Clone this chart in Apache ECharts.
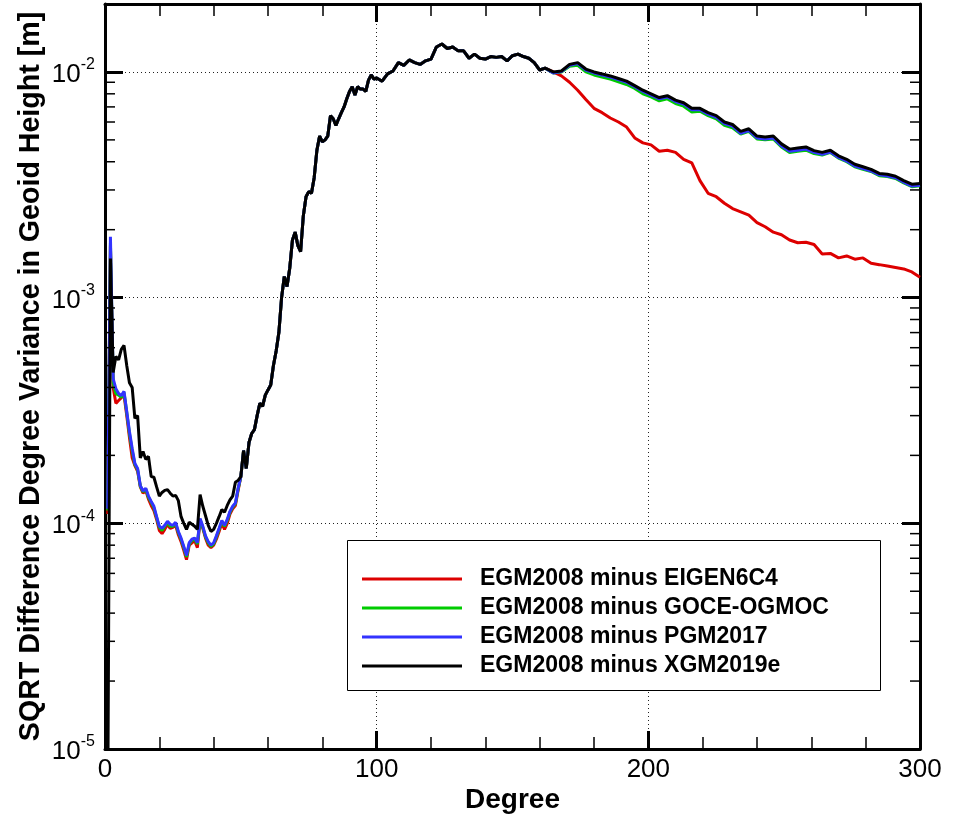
<!DOCTYPE html>
<html><head><meta charset="utf-8">
<script src="https://cdn.jsdelivr.net/npm/echarts@6/dist/echarts.min.js"></script>
<style>html,body{margin:0;padding:0;background:#fff}#c{width:953px;height:814px}</style>
</head><body><div id="c"></div>
<script>
// ---------------- data ----------------
const seriesNames = ['EGM2008 minus EIGEN6C4','EGM2008 minus GOCE-OGMOC','EGM2008 minus PGM2017','EGM2008 minus XGM2019e'];
const xTicks = [0,100,200,300];
const yMinorTicks = [2e-5,3e-5,4e-5,5e-5,6e-5,7e-5,8e-5,9e-5,2e-4,3e-4,4e-4,5e-4,6e-4,7e-4,8e-4,9e-4,2e-3,3e-3,4e-3,5e-3,6e-3,7e-3,8e-3,9e-3];

// degrees 1..49 (each model separately)
const degA = [1,2,3,4,5,6,7,8,9,10,11,12,13,14,15,16,17,18,19,20,21,22,23,24,25,26,27,28,29,30,31,32,33,34,35,36,37,38,39,40,41,42,43,44,45,46,47,48,49];
const blackA = [5e-6,1.49e-3,4.66e-4,5.48e-4,5.3e-4,5.9e-4,6.14e-4,5.0e-4,4.2e-4,4.0e-4,
  2.92e-4,3.0e-4,1.95e-4,2.08e-4,1.92e-4,1.98e-4,1.61e-4,1.6e-4,1.45e-4,1.32e-4,
  1.37e-4,1.4e-4,1.41e-4,1.36e-4,1.32e-4,1.33e-4,1.26e-4,1.07e-4,1.0e-4,9.4e-5,
  1.01e-4,9.9e-5,9.7e-5,9.4e-5,1.34e-4,1.19e-4,1.08e-4,9.8e-5,9.2e-5,9.4e-5,
  1.0e-4,1.07e-4,1.15e-4,1.12e-4,1.2e-4,1.27e-4,1.32e-4,1.52e-4,1.55e-4];
const blueA = [1.16e-4,1.86e-3,4.38e-4,3.95e-4,3.76e-4,3.68e-4,3.84e-4,3.13e-4,2.55e-4,2.15e-4,
  1.84e-4,1.75e-4,1.47e-4,1.39e-4,1.43e-4,1.32e-4,1.25e-4,1.19e-4,1.07e-4,9.7e-5,
  9.5e-5,9.8e-5,1.02e-4,9.9e-5,9.8e-5,1.01e-4,9.2e-5,8.6e-5,7.9e-5,7.2e-5,
  8.2e-5,8.5e-5,8.6e-5,8.2e-5,1.05e-4,9.7e-5,8.8e-5,8.3e-5,8.0e-5,8.2e-5,
  8.8e-5,9.5e-5,1.03e-4,9.8e-5,1.04e-4,1.13e-4,1.19e-4,1.23e-4,1.43e-4];
const redA = [1.1e-4,1.7e-3,4.0e-4,3.4e-4,3.5e-4,3.6e-4,3.7e-4,3.0e-4,2.4e-4,1.95e-4,
  1.8e-4,1.7e-4,1.45e-4,1.36e-4,1.4e-4,1.28e-4,1.2e-4,1.14e-4,1.04e-4,9.3e-5,
  9.0e-5,9.4e-5,9.9e-5,9.5e-5,9.6e-5,9.8e-5,8.9e-5,8.3e-5,7.6e-5,6.9e-5,
  8.0e-5,8.2e-5,8.4e-5,7.8e-5,1.03e-4,9.5e-5,8.6e-5,8.0e-5,7.8e-5,8.0e-5,
  8.5e-5,9.2e-5,1.0e-4,9.4e-5,1.0e-4,1.1e-4,1.16e-4,1.2e-4,1.4e-4];
const greenA = [1.14e-4,1.75e-3,4.2e-4,3.75e-4,3.7e-4,3.62e-4,3.8e-4,3.1e-4,2.5e-4,2.1e-4,
  1.82e-4,1.73e-4,1.46e-4,1.38e-4,1.42e-4,1.3e-4,1.24e-4,1.17e-4,1.06e-4,9.6e-5,
  9.3e-5,9.7e-5,1.01e-4,9.7e-5,9.7e-5,1.0e-4,9.1e-5,8.5e-5,7.8e-5,7.1e-5,
  8.1e-5,8.4e-5,8.5e-5,8.1e-5,1.04e-4,9.6e-5,8.7e-5,8.2e-5,7.9e-5,8.1e-5,
  8.7e-5,9.4e-5,1.02e-4,9.7e-5,1.03e-4,1.12e-4,1.18e-4,1.22e-4,1.42e-4];

// degrees 50..162 where all four curves coincide
const degB = [50,51,52,53,54,55,56,57,58,59,60,61,62,63,64,65,66,67,68,69,70,71,72,73,74,75,76,77,78,79,
  80,81,82,83,84,85,86,87,88,89,90,91,92,93,94,95,96,97,98,99,
  100,102,104,106,108,110,112,114,116,118,120,122,124,126,128,130,132,134,136,138,
  140,142,144,146,148,150,152,154,156,158,160,162];
const commonB = [1.61e-4,2.1e-4,1.75e-4,2.28e-4,2.5e-4,2.6e-4,3.0e-4,3.4e-4,3.3e-4,3.7e-4,
  3.9e-4,4.1e-4,5.0e-4,5.8e-4,7.0e-4,1.0e-3,1.24e-3,1.12e-3,1.35e-3,1.8e-3,
  1.95e-3,1.7e-3,1.6e-3,2.3e-3,2.8e-3,2.95e-3,2.9e-3,3.4e-3,4.5e-3,5.2e-3,
  4.9e-3,5.0e-3,5.2e-3,6.4e-3,6.2e-3,5.8e-3,6.2e-3,6.6e-3,7.0e-3,7.6e-3,
  8.2e-3,8.6e-3,7.9e-3,8.6e-3,8.4e-3,8.4e-3,8.2e-3,9.2e-3,9.7e-3,9.3e-3,
  9.4e-3,9.1e-3,9.8e-3,1.01e-2,1.1e-2,1.07e-2,1.13e-2,1.1e-2,1.08e-2,1.12e-2,
  1.14e-2,1.29e-2,1.33e-2,1.27e-2,1.29e-2,1.24e-2,1.24e-2,1.15e-2,1.2e-2,1.15e-2,
  1.14e-2,1.17e-2,1.16e-2,1.17e-2,1.12e-2,1.18e-2,1.2e-2,1.17e-2,1.15e-2,1.1e-2,
  1.02e-2,1.04e-2];

// degrees 165..300 (each model separately)
const degC = [165,168,171,174,177,180,183,186,189,192,195,198,201,204,207,210,213,216,219,222,
  225,228,231,234,237,240,243,246,249,252,255,258,261,264,267,270,273,276,279,282,285,288,291,294,297,300];
const blackC = [0.0100,0.0101,0.0108,0.0110,0.0103,0.0100,0.0098,0.0096,0.00935,0.0091,
  0.0087,0.0083,0.0080,0.0077,0.00785,0.0075,0.0073,0.0069,0.0069,0.0066,
  0.0064,0.0060,0.00585,0.00545,0.0056,0.0052,0.00515,0.0052,0.0048,0.00455,
  0.0046,0.00465,0.00448,0.0044,0.0045,0.00425,0.0041,0.0039,0.0038,0.0037,
  0.00355,0.00352,0.00345,0.0033,0.00318,0.0032];
const blueC = [0.0099,0.01005,0.0107,0.0109,0.0102,0.0099,0.0097,0.0095,0.00925,0.0090,
  0.0086,0.0082,0.0079,0.0076,0.00775,0.0074,0.0072,0.0068,0.0068,0.0065,
  0.0063,0.0059,0.00575,0.00535,0.0055,0.0051,0.00505,0.0051,0.0047,0.00445,
  0.0045,0.00455,0.0044,0.00432,0.00442,0.00418,0.00403,0.00383,0.00373,0.00364,
  0.0035,0.00346,0.0034,0.00325,0.00312,0.00315];
const greenC = [0.0099,0.0100,0.0106,0.0107,0.0100,0.0097,0.0095,0.0093,0.00905,0.0088,
  0.00845,0.0080,0.00775,0.00745,0.0076,0.00725,0.00705,0.00665,0.0067,0.0064,
  0.0062,0.0058,0.00565,0.0053,0.00545,0.00505,0.0050,0.00505,0.00465,0.0044,
  0.00445,0.0045,0.00435,0.00428,0.0044,0.00415,0.0040,0.0038,0.0037,0.00362,
  0.00347,0.00344,0.00337,0.00322,0.0031,0.00313];
const redC = [0.0100,0.0096,0.0090,0.0083,0.00755,0.0069,0.0066,0.00625,0.0060,0.0057,
  0.0051,0.00485,0.00475,0.00445,0.0045,0.0044,0.0041,0.00395,0.0033,0.0029,
  0.0028,0.00262,0.00248,0.0024,0.00232,0.00215,0.00206,0.00195,0.0019,0.0018,
  0.00175,0.00176,0.00172,0.00156,0.00157,0.0015,0.00153,0.00148,0.0015,0.00142,
  0.0014,0.00138,0.00136,0.00134,0.0013,0.00123];

const colors = ['#dd0000','#00cc00','#3333ff','#000000'];
// --------------------------------------

function zip(degs, vals){ return degs.map((d,i)=>[d, vals[i]]); }
function build(a, c){ return zip(degA, a).concat(zip(degB, commonB), zip(degC, c)); }
const seriesData = [build(redA, redC), build(greenA, greenC), build(blueA, blueC), build(blackA, blackC)];

const FF = '"Liberation Sans", Arial, Helvetica, sans-serif';
const chart = echarts.init(document.getElementById('c'), null, {renderer:'canvas'});
const gridLine = {type:[1,3], color:'#222', width:1};

function xAxisCfg(pos, main){
  return {
    type:'value', position:pos, min:0, max:300, interval:100,
    axisLine:{show:true, onZero:false, lineStyle:{color:'#000', width:3}},
    axisTick:{show:true, inside:true, length:18, lineStyle:{color:'#000', width:3}},
    minorTick:{show:true, splitNumber:5, length:12, lineStyle:{color:'#000', width:1.5}},
    axisLabel:{show:main, fontSize:26, color:'#000', margin:8, fontFamily:FF,
      formatter: v => xTicks.indexOf(v) >= 0 ? String(v) : ''},
    splitLine:{show:main, lineStyle:gridLine},
    name: main ? 'Degree' : '', nameLocation:'middle', nameGap:37, nameMoveOverlap:false,
    nameTextStyle:{fontSize:28, fontWeight:'bold', color:'#000', fontFamily:FF}
  };
}
function yAxisCfg(pos, main){
  return {
    type:'log', logBase:10, position:pos, min:1e-5, max:0.02,
    axisLine:{show:true, onZero:false, lineStyle:{color:'#000', width:3}},
    axisTick:{show:true, inside:true, length:18, lineStyle:{color:'#000', width:3}},
    axisLabel:{show:main, margin:10, color:'#000', fontFamily:FF,
      formatter: function(v){
        const l = Math.log10(v), e = Math.round(l);
        if (Math.abs(l - e) > 0.01) return '';
        return '{b|10}{s|' + e + '}';
      },
      rich:{ b:{fontSize:26, lineHeight:30, color:'#000', fontFamily:FF, padding:[6,0,0,0]},
             s:{fontSize:16, lineHeight:14, verticalAlign:'top', color:'#000', fontFamily:FF} }
    },
    splitLine:{show:main, lineStyle:gridLine},
    name: main ? 'SQRT Difference Degree Variance in Geoid Height [m]' : '',
    nameLocation:'middle', nameGap:59, nameRotate:90, nameMoveOverlap:false,
    nameTextStyle:{fontSize:28.6, fontWeight:'bold', color:'#000', fontFamily:FF}
  };
}

const series = seriesNames.map((n,i)=>({
  name:n, type:'line', data:seriesData[i], showSymbol:false, symbol:'none',
  xAxisIndex:0, yAxisIndex:0, clip:true,
  lineStyle:{color:colors[i], width:3},
  itemStyle:{color:colors[i]}, z:2
}));
series.push({
  name:'minorTicks', type:'custom', silent:true, xAxisIndex:0, yAxisIndex:0, clip:false, z:5,
  data: yMinorTicks.map(v=>[0, v]),
  renderItem: function(params, api){
    const cs = params.coordSys;
    const y = api.coord([api.value(0), api.value(1)])[1];
    const st = {stroke:'#000', lineWidth:1.5};
    return {type:'group', children:[
      {type:'line', shape:{x1:cs.x, y1:y, x2:cs.x+10, y2:y}, style:st},
      {type:'line', shape:{x1:cs.x+cs.width-10, y1:y, x2:cs.x+cs.width, y2:y}, style:st}
    ]};
  }
});

chart.setOption({
  animation:false,
  backgroundColor:'#fff',
  grid:{left:105, right:33, top:4, bottom:65, containLabel:false, outerBoundsMode:'none'},
  xAxis:[xAxisCfg('bottom', true), xAxisCfg('top', false)],
  yAxis:[yAxisCfg('left', true), yAxisCfg('right', false)],
  graphic:[{type:'rect', left:347, top:540, z:3, silent:true,
    shape:{width:533, height:150}, style:{fill:'#fff', stroke:'#000', lineWidth:1}}],
  legend:{
    data:seriesNames, orient:'vertical', left:357, top:561, z:6,
    icon:'rect', itemWidth:100, itemHeight:3, itemGap:3,
    textStyle:{fontSize:23, fontWeight:'bold', color:'#000', fontFamily:FF, lineHeight:26, padding:[0,0,0,13]},
    selectedMode:false
  },
  series:series
});
</script></body></html>
